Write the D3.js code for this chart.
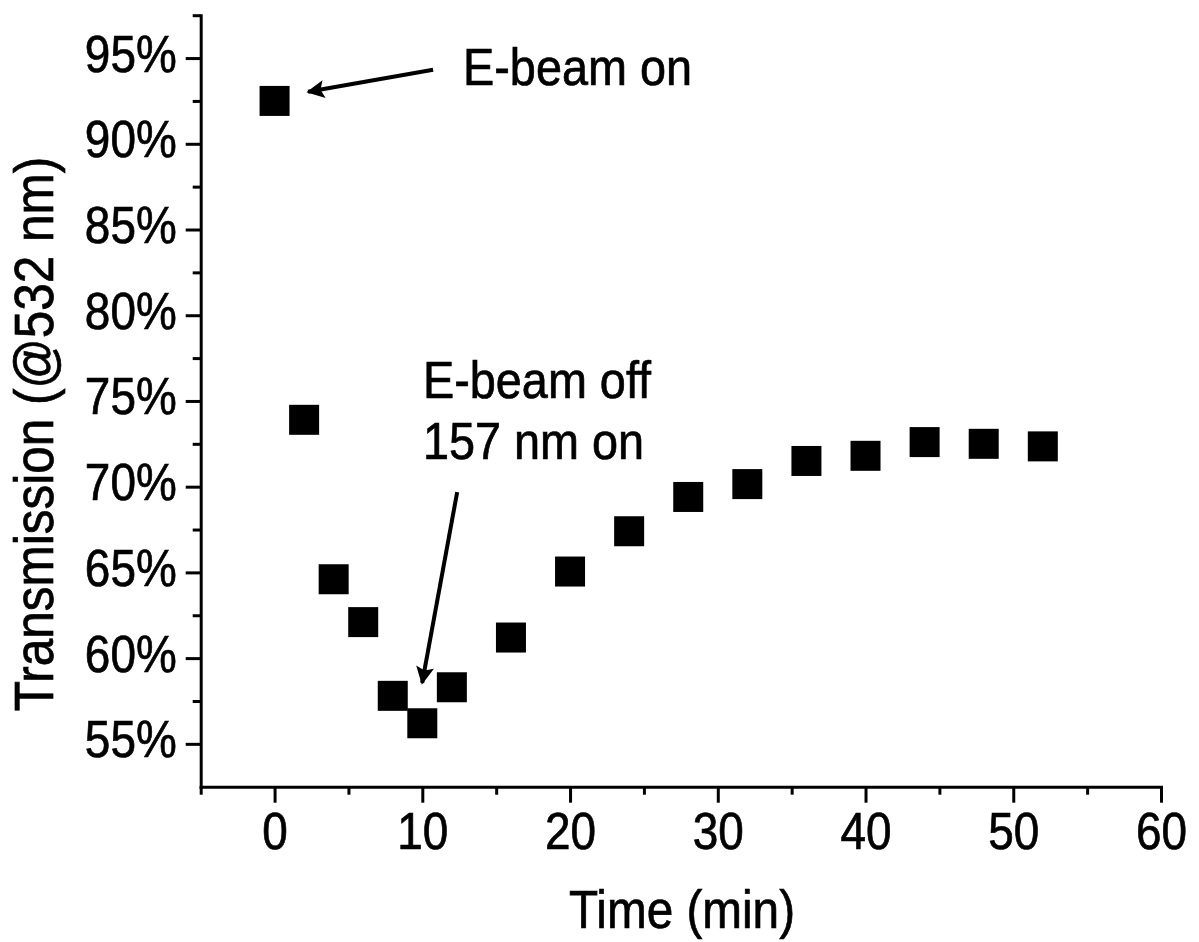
<!DOCTYPE html>
<html>
<head>
<meta charset="utf-8">
<script src="https://cdn.jsdelivr.net/npm/d3@7"></script>
<style>
  html, body { margin: 0; padding: 0; background: #fff; }
  svg { display: block; }
  text { font-family: "Liberation Sans", Arial, sans-serif; fill: #000; stroke: #000; stroke-width: 0.7px; }
</style>
</head>
<body>
<div id="chart"></div>
<script>
// data
const times = [0, 2, 4, 6, 8, 10, 12, 16, 20, 24, 28, 32, 36, 40, 44, 48, 52];
const transmission = [92.5, 73.9, 64.6, 62.1, 57.8, 56.2, 58.3, 61.2, 65.05, 67.4, 69.4, 70.15, 71.5, 71.8, 72.6, 72.5, 72.35];

const xMajorTicks = [0, 10, 20, 30, 40, 50, 60];
const xMinorTicks = [-5, 5, 15, 25, 35, 45, 55];
const yMajorTicks = [55, 60, 65, 70, 75, 80, 85, 90, 95];
const yMinorTicks = [57.5, 62.5, 67.5, 72.5, 77.5, 82.5, 87.5, 92.5, 97.5];

// annotations, anchored in data coordinates
const arrows = [
  { from: [10.73, 94.32], to: [2.27, 93.03] },
  { from: [12.36, 69.68], to: [9.99, 58.55] },
];
const labels = [
  { x: 12.76, y: 93.44, text: "E-beam on" },
  { x: 10.05, y: 75.2, text: "E-beam off" },
  { x: 10.05, y: 71.6, text: "157 nm on" },
];

const width = 1199, height = 942;
const squeeze = 0.9; // the original lettering is slightly condensed

const svg = d3.select("#chart").append("svg")
  .attr("width", width)
  .attr("height", height);

const x = d3.scaleLinear().domain([-5, 60]).range([200.7, 1161]);
const y = d3.scaleLinear().domain([52.5, 97.5]).range([786.7, 15.2]);

// y axis
const yAxis = svg.append("g")
  .attr("transform", `translate(${x(-5)},0)`)
  .call(d3.axisLeft(y).tickValues(yMajorTicks).tickSize(15).tickSizeOuter(0)
    .tickFormat((d) => d + "%"));
svg.append("g")
  .attr("transform", `translate(${x(-5)},0)`)
  .call(d3.axisLeft(y).tickValues(yMinorTicks).tickSize(8).tickSizeOuter(0).tickFormat(""))
  .select(".domain").remove();

yAxis.selectAll("text")
  .attr("x", null)
  .attr("dy", null)
  .attr("font-size", 51)
  .attr("transform", `translate(-24,13) scale(${squeeze},1)`);

// x axis
const xAxis = svg.append("g")
  .attr("transform", `translate(0,${y(52.5)})`)
  .call(d3.axisBottom(x).tickValues(xMajorTicks).tickSize(16).tickSizeOuter(0));
svg.append("g")
  .attr("transform", `translate(0,${y(52.5)})`)
  .call(d3.axisBottom(x).tickValues(xMinorTicks).tickSize(8).tickSizeOuter(0).tickFormat(""))
  .select(".domain").remove();

xAxis.selectAll("text")
  .attr("y", null)
  .attr("dy", null)
  .attr("font-size", 51)
  .attr("transform", `translate(0,62) scale(${squeeze},1)`);

svg.selectAll(".domain, .tick line")
  .attr("stroke", "#000")
  .attr("stroke-width", 3);
svg.selectAll(".domain").attr("stroke-linecap", "square");

// axis titles
svg.append("text")
  .attr("transform", `translate(53,434) rotate(-90) scale(${squeeze},1)`)
  .attr("text-anchor", "middle")
  .attr("font-size", 55)
  .text("Transmission (@532 nm)");

svg.append("text")
  .attr("transform", `translate(682,928) scale(${squeeze},1)`)
  .attr("text-anchor", "middle")
  .attr("font-size", 53)
  .text("Time (min)");

// data points
const points = times.map((t, i) => ({ t, v: transmission[i] }));
const side = 30;
svg.append("g")
  .selectAll("rect")
  .data(points)
  .join("rect")
  .attr("x", (d) => x(d.t) - side / 2)
  .attr("y", (d) => y(d.v) - side / 2)
  .attr("width", side)
  .attr("height", side)
  .attr("fill", "#000");

// arrows
svg.append("defs").append("marker")
  .attr("id", "head")
  .attr("viewBox", "0 0 10 10")
  .attr("refX", 9)
  .attr("refY", 5)
  .attr("markerWidth", 6.5)
  .attr("markerHeight", 4.5)
  .attr("markerUnits", "strokeWidth")
  .attr("orient", "auto")
  .append("path")
  .attr("d", "M0,0 L10,5 L0,10 L2,5 Z")
  .attr("fill", "#000");

svg.append("g")
  .selectAll("line")
  .data(arrows)
  .join("line")
  .attr("x1", (d) => x(d.from[0]))
  .attr("y1", (d) => y(d.from[1]))
  .attr("x2", (d) => x(d.to[0]))
  .attr("y2", (d) => y(d.to[1]))
  .attr("stroke", "#000")
  .attr("stroke-width", 4)
  .attr("marker-end", "url(#head)");

svg.append("g")
  .selectAll("text")
  .data(labels)
  .join("text")
  .attr("transform", (d) => `translate(${x(d.x)},${y(d.y)}) scale(${squeeze},1)`)
  .attr("font-size", 52)
  .text((d) => d.text);
</script>
</body>
</html>
